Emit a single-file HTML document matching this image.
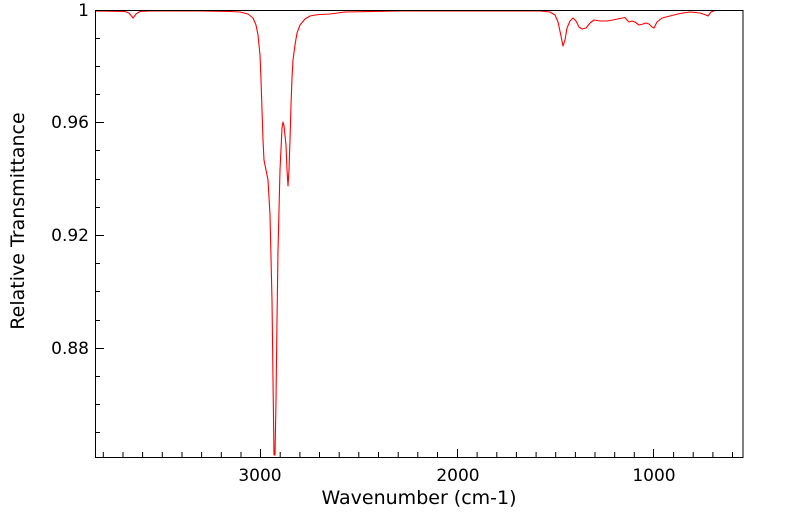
<!DOCTYPE html>
<html><head><style>body{margin:0;background:#fff}svg{display:block}</style></head><body>
<svg width="799" height="516" xmlns="http://www.w3.org/2000/svg" font-family="DejaVu Sans, sans-serif">
<rect width="799" height="516" fill="#fff"/>
<polyline fill="none" stroke="#ff0000" stroke-width="1.1" stroke-linejoin="round" points="95,11 125,11.5 129,13 133,18 136,14 140,11.5 150,11 200,11 230,11.5 240,12 248,14 253,18 256,25 258,35 260,55 261,80 262,110 263,140 264,160 266,170 268,180 270,215 272,300 273,380 274,455 275,455 276,400 277,320 278,250 280,170 282,128 283,122 284,126 286,145 287,170 288,186 289,170 290,140 291,105 292,78 293,60 295,45 297,33 300,25 305,19 310,16 315,15 320,14.5 330,14 345,12 400,11 540,11 550,12 555,15 558,22 561,36 563,46 565,40 567,28 570,21 573,18 576,21 579,27 582,29 586,28 590,23 594,20 600,21 607,21 613,20 620,18.5 625,17.5 627,20 629,22 632,21 635,22 639,25 643,24 646,23 649,24 652,27 654,28 657,22 662,18 670,16 680,13.5 690,12 700,13 706,15 708,16 711,12 715,10.5 743,10.5"/>
<rect x="95.5" y="10.5" width="647.5" height="447" stroke="#000" fill="none"/>
<g stroke="#000" stroke-width="1">
<path d="M96 10.5h8M96 122.5h8M96 235.5h8M96 348.5h8M96 38.5h4M96 66.5h4M96 94.5h4M96 150.5h4M96 179.5h4M96 207.5h4M96 263.5h4M96 291.5h4M96 320.5h4M96 376.5h4M96 404.5h4M96 432.5h4"/>
<path d="M260.5 457v-8M457.5 457v-8M653.5 457v-8"/>
<path d="M103.3 457v-5M123 457v-5M142.6 457v-5M162.3 457v-5M182 457v-5M201.6 457v-5M221.3 457v-5M241 457v-5M280.2 457v-5M299.9 457v-5M319.5 457v-5M339.2 457v-5M358.8 457v-5M378.5 457v-5M398.2 457v-5M417.8 457v-5M437.5 457v-5M477.1 457v-5M496.8 457v-5M516.4 457v-5M536.1 457v-5M555.7 457v-5M575.4 457v-5M595 457v-5M614.7 457v-5M634.3 457v-5M673.6 457v-5M693.2 457v-5M712.9 457v-5M732.5 457v-5"/>
</g>
<g font-size="17" fill="#000">
<text x="89" y="16" text-anchor="end">1</text>
<text x="89" y="128" text-anchor="end">0.96</text>
<text x="89" y="241" text-anchor="end">0.92</text>
<text x="89" y="354" text-anchor="end">0.88</text>
<text x="260" y="481" text-anchor="middle">3000</text>
<text x="458" y="481" text-anchor="middle">2000</text>
<text x="654" y="481" text-anchor="middle">1000</text>
</g>
<g font-size="19" fill="#000">
<text x="419" y="504" text-anchor="middle">Wavenumber (cm-1)</text>
<text transform="translate(24,221) rotate(-90)" text-anchor="middle">Relative Transmittance</text>
</g>
</svg>
</body></html>
